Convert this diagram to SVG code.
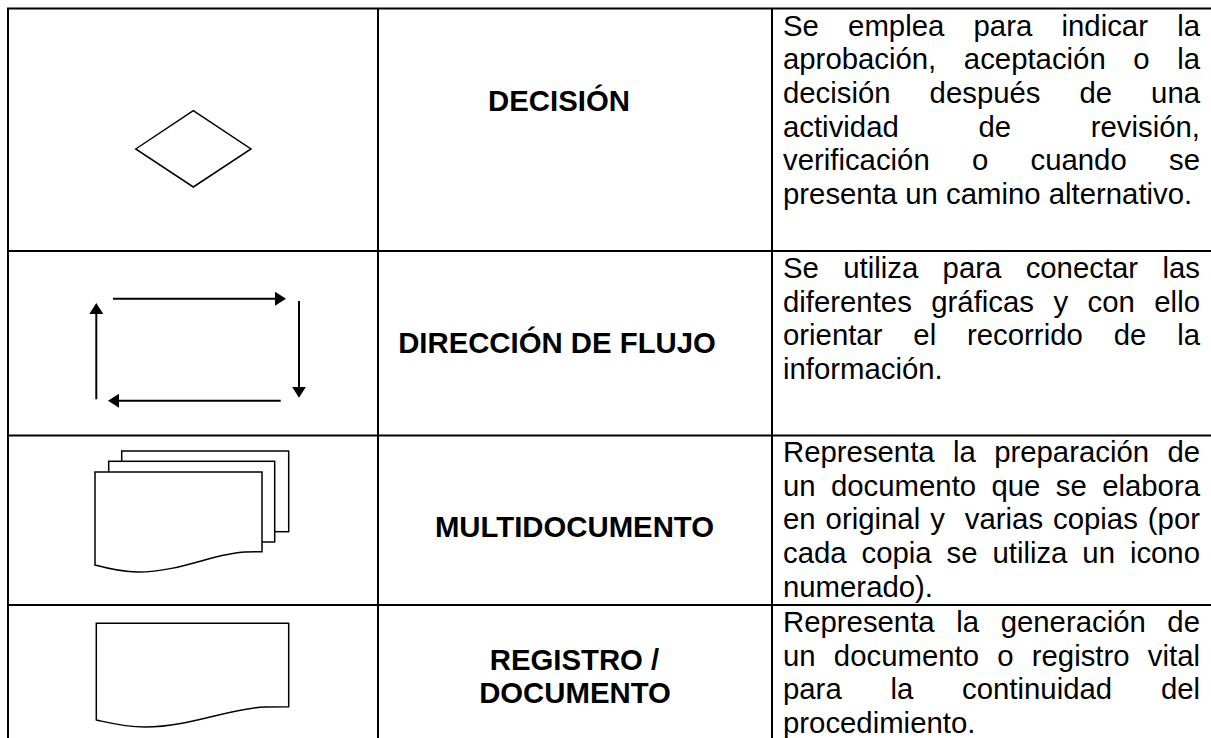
<svg xmlns="http://www.w3.org/2000/svg" width="1211" height="738" viewBox="0 0 1211 738">
<style>
.grid{stroke:#000;stroke-width:2;fill:none}
.shape{stroke:#000;stroke-width:1.5;fill:#fff;stroke-linejoin:miter}
.arr{stroke:#000;stroke-width:2;fill:none}
.lbl{font-family:"Liberation Sans",Arial,sans-serif;font-size:29.33px;font-weight:bold;fill:#000;text-anchor:middle}
.desc{font-family:"Liberation Sans",Arial,sans-serif;font-size:29.33px;fill:#000}
</style>
<defs>
<marker id="ah" markerUnits="userSpaceOnUse" markerWidth="12" markerHeight="15" refX="1" refY="7" orient="auto">
<path d="M0,0 L11,7 L0,14 Z" fill="#000"/>
</marker>
</defs>
<rect width="1211" height="738" fill="#fff"/>
<g id="table" class="grid">
<line x1="7" y1="8.5" x2="1211" y2="8.5"/>
<line x1="8" y1="8.5" x2="8" y2="738"/>
<line x1="378" y1="8.5" x2="378" y2="738"/>
<line x1="772" y1="8.5" x2="772" y2="738"/>
<line x1="7" y1="251" x2="1211" y2="251"/>
<line x1="7" y1="435.5" x2="1211" y2="435.5"/>
<line x1="7" y1="605" x2="1211" y2="605"/>
</g>
<g id="row-decision">
<polygon class="shape" points="135.7,149 193.3,110.7 251,149 193.3,187"/>
<text class="lbl" x="559" y="111">DECISIÓN</text>
<text class="desc" x="783" y="35.5" word-spacing="21.1">Se emplea para indicar la</text>
<text class="desc" x="783" y="69.2" word-spacing="19.43">aprobación, aceptación o la</text>
<text class="desc" x="783" y="102.9" word-spacing="30.84">decisión después de una</text>
<text class="desc" x="783" y="136.6" word-spacing="71.56">actividad de revisión,</text>
<text class="desc" x="783" y="170.3" word-spacing="34.11">verificación o cuando se</text>
<text class="desc" x="783" y="204">presenta un camino alternativo.</text>
</g>
<g id="row-flujo">
<g id="connectors">
<line class="arr" x1="113" y1="298.7" x2="276" y2="298.7" marker-end="url(#ah)"/>
<line class="arr" x1="299" y1="301" x2="299" y2="387.7" marker-end="url(#ah)"/>
<line class="arr" x1="280.7" y1="400.7" x2="118" y2="400.7" marker-end="url(#ah)"/>
<line class="arr" x1="96.3" y1="399.3" x2="96.3" y2="313" marker-end="url(#ah)"/>
</g>
<text class="lbl" x="557" y="353">DIRECCIÓN DE FLUJO</text>
<text class="desc" x="783" y="278" word-spacing="16.21">Se utiliza para conectar las</text>
<text class="desc" x="783" y="311.7" word-spacing="11.32">diferentes gráficas y con ello</text>
<text class="desc" x="783" y="345.4" word-spacing="22.74">orientar el recorrido de la</text>
<text class="desc" x="783" y="379.1">información.</text>
</g>
<g id="row-multidocumento">
<rect class="shape" x="121.7" y="451" width="167" height="80.7"/>
<rect class="shape" x="108.7" y="461.3" width="166" height="80.7"/>
<path class="shape" d="M95,472 H262 V551.7 L245,552 C215,553 180,572 138,572 C120,572 106,568 95,565 Z"/>
<text class="lbl" x="574.5" y="537">MULTIDOCUMENTO</text>
<text class="desc" x="783" y="462" word-spacing="10.2">Representa la preparación de</text>
<text class="desc" x="783" y="495.7" word-spacing="7.23">un documento que se elabora</text>
<text class="desc" x="783" y="529.4" word-spacing="1.85" xml:space="preserve" style="white-space:pre">en original y  varias copias (por</text>
<text class="desc" x="783" y="563.1" word-spacing="6.77">cada copia se utiliza un icono</text>
<text class="desc" x="783" y="596.8">numerado).</text>
</g>
<g id="row-registro">
<path class="shape" d="M96.3,623.3 H288.7 V706.7 L265,707 C230,708 190,727 145,727 C125,727 110,723 96.3,720 Z"/>
<text class="lbl" x="574.5" y="670">REGISTRO /</text>
<text class="lbl" x="575" y="703">DOCUMENTO</text>
<text class="desc" x="783" y="632" word-spacing="13.45">Representa la generación de</text>
<text class="desc" x="783" y="665.7" word-spacing="10.1">un documento o registro vital</text>
<text class="desc" x="783" y="699.4" word-spacing="40.63">para la continuidad del</text>
<text class="desc" x="783" y="733.1">procedimiento.</text>
</g>
</svg>
